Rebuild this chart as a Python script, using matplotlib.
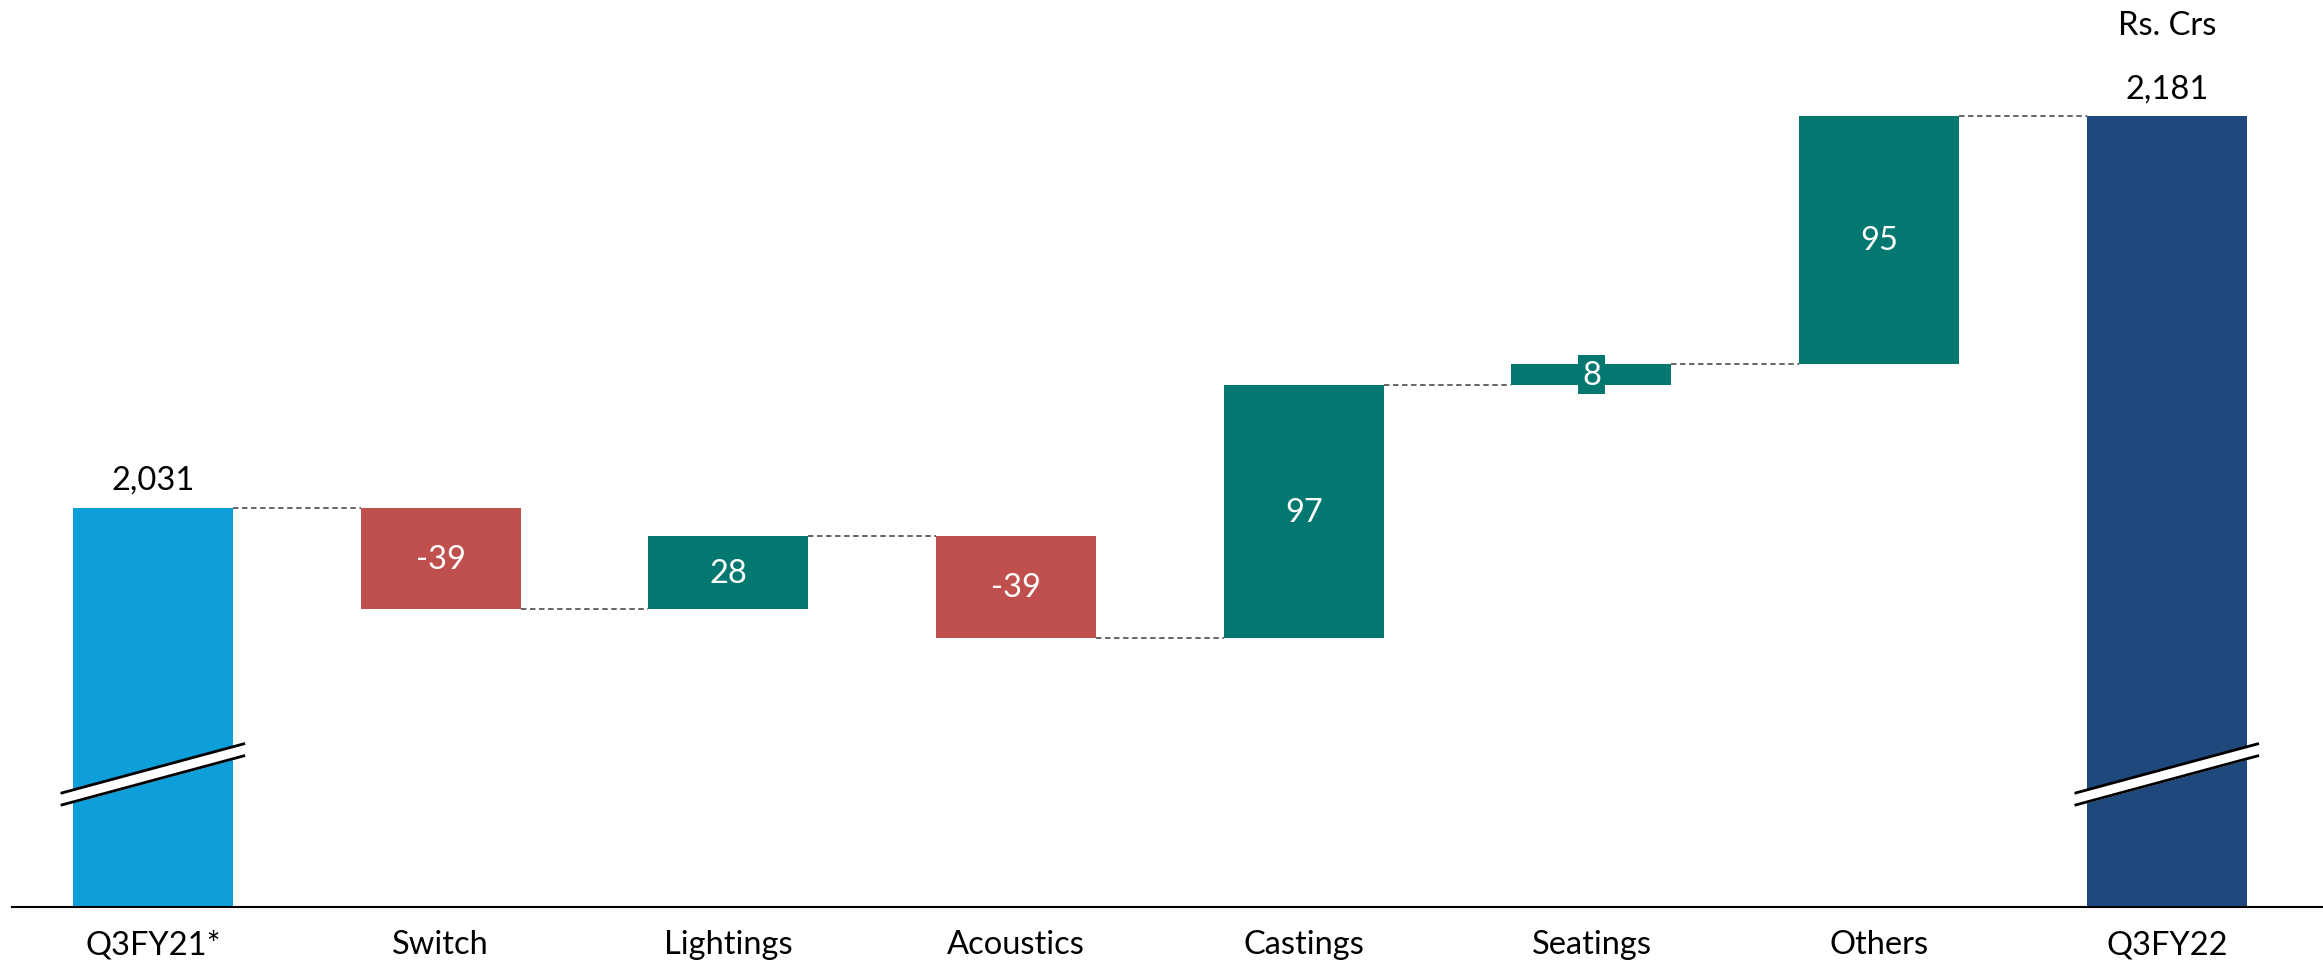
import matplotlib
matplotlib.use('Agg')
import matplotlib.pyplot as plt
import numpy as np

categories = ['Q3FY21*', 'Switch', 'Lightings', 'Acoustics', 'Castings', 'Seatings', 'Others', 'Q3FY22']
start_value = 2031
changes = [-39, 28, -39, 97, 8, 95]
end_value = 2181
value_labels = ['2,031', '-39', '28', '-39', '97', '8', '95', '2,181']
unit_label = 'Rs. Crs'

# broken value axis: bars start here, not at zero
axis_floor = 1878
axis_top = 2226

c_start = '#0E9ED9'
c_up = '#027870'
c_down = '#C0504D'
c_end = '#1F497D'

plt.rcParams['font.family'] = ['Lato', 'DejaVu Sans']

fig = plt.figure(figsize=(23.23, 9.7), dpi=100)
ax = fig.add_axes([0.005, 0.064, 0.995, 0.936])

x = np.arange(len(categories))
w = 0.556

# waterfall geometry
bottoms = [axis_floor]
heights = [start_value - axis_floor]
colors = [c_start]
levels = [start_value]
running = start_value
for c in changes:
    new = running + c
    bottoms.append(min(running, new))
    heights.append(abs(c))
    colors.append(c_up if c > 0 else c_down)
    running = new
    levels.append(running)
bottoms.append(axis_floor)
heights.append(end_value - axis_floor)
colors.append(c_end)

ax.bar(x, heights, bottom=bottoms, width=w, color=colors, zorder=2)

# connectors
for i in range(len(categories) - 1):
    ax.plot([x[i] + w / 2, x[i + 1] - w / 2], [levels[i], levels[i]],
            ls=(0, (3, 2)), color='#595959', lw=1.3, zorder=1)

# labels
fs = 23.5
ax.text(x[0], start_value + 5, value_labels[0], ha='center', va='bottom', fontsize=fs, color='black')
ax.text(x[-1], end_value + 5, value_labels[-1], ha='center', va='bottom', fontsize=fs, color='black')
ax.text(x[-1], 2216, unit_label, ha='center', va='center', fontsize=fs, color='black', clip_on=False)
for i, c in enumerate(changes, start=1):
    mid = bottoms[i] + heights[i] / 2
    kw = {}
    if heights[i] < 15:
        kw['bbox'] = dict(facecolor=colors[i], edgecolor='none', pad=3)
    ax.text(x[i], mid, value_labels[i], ha='center', va='center', fontsize=fs, color='white', zorder=3, **kw)

# axis break marks on the two total bars
for xi in (x[0], x[-1]):
    bx = np.array([xi - 0.316, xi + 0.316])
    lo = np.array([1917.1, 1935.9])
    hi = lo + 4.6
    ax.fill_between(bx, lo, hi, color='white', zorder=4, clip_on=False)
    ax.plot(bx, lo, color='black', lw=2, zorder=5, clip_on=False)
    ax.plot(bx, hi, color='black', lw=2, zorder=5, clip_on=False)

ax.set_xlim(-0.491, 7.543)
ax.set_ylim(axis_floor, axis_top)
ax.set_xticks(x)
ax.set_xticklabels(categories, fontsize=fs)
ax.tick_params(axis='x', length=0, pad=16)
ax.set_yticks([])
for s in ['top', 'right', 'left']:
    ax.spines[s].set_visible(False)
ax.spines['bottom'].set_linewidth(1.5)
ax.spines['bottom'].set_color('black')

fig.savefig('out.png', dpi=100, facecolor='white')
